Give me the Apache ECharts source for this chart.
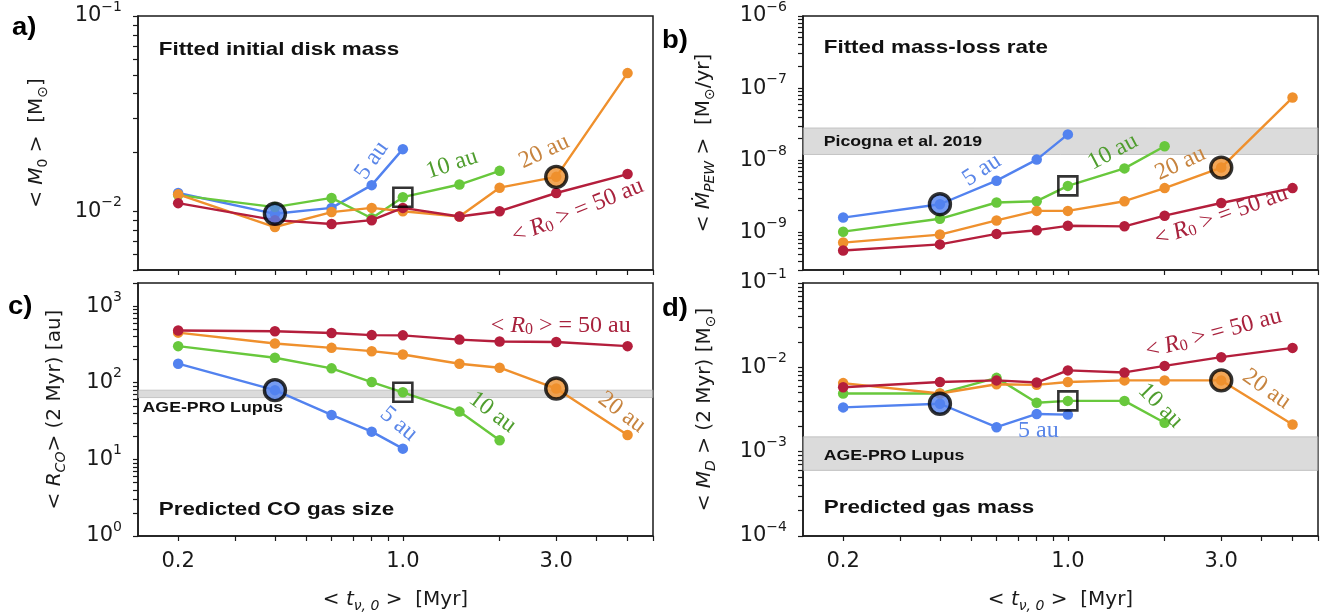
<!DOCTYPE html>
<html>
<head>
<meta charset="utf-8">
<script src="https://cdn.jsdelivr.net/npm/echarts@6/dist/echarts.min.js"></script>
<style>
html, body { margin: 0; padding: 0; background: #fff; }
#chart { width: 1332px; height: 614px; }
</style>
</head>
<body>
<div id="chart"></div>
<script>
// viscous timescale <t_nu,0> [Myr], shared by all panels
const tNu = [0.2, 0.4, 0.6, 0.8, 1.0, 1.5, 2.0, 3.0, 5.0]
const xTickLabels = [0.2, 1.0, 3.0]

// a) fitted initial disk mass [Msun]
const m0R5 = [0.0124, 0.0097, 0.0104, 0.0136, 0.0208]
const m0R10 = [0.0121, 0.0105, 0.0117, 0.0092, 0.0118, 0.0137, 0.0161]
const m0R20 = [0.0122, 0.0083, 0.0099, 0.0104, 0.0100, 0.0094, 0.0132, 0.0150, 0.0510]
const m0R50 = [0.0110, 0.0090, 0.0086, 0.0090, 0.0104, 0.0094, 0.0100, 0.0124, 0.0155]

// b) fitted mass-loss rate [Msun/yr]
const mdotR5 = [1.6e-9, 2.45e-9, 5.2e-9, 1.02e-8, 2.28e-8]
const mdotR10 = [1.02e-9, 1.54e-9, 2.59e-9, 2.7e-9, 4.4e-9, 7.7e-9, 1.56e-8]
const mdotR20 = [7.2e-10, 9.3e-10, 1.46e-9, 1.98e-9, 1.98e-9, 2.7e-9, 4.1e-9, 7.9e-9, 7.4e-8]
const mdotR50 = [5.6e-10, 6.8e-10, 9.5e-10, 1.07e-9, 1.23e-9, 1.21e-9, 1.7e-9, 2.55e-9, 4.1e-9]

// c) predicted CO gas size at 2 Myr [au]
const rcoR5 = [177, 80, 38, 23, 13.8]
const rcoR10 = [300, 212, 154, 102, 75, 42, 17.8]
const rcoR20 = [450, 325, 285, 258, 233, 177, 157, 84, 20.8]
const rcoR50 = [480, 470, 445, 418, 415, 365, 345, 340, 300]

// d) predicted gas mass at 2 Myr [Msun]
const mdR5 = [3.35e-3, 3.7e-3, 1.95e-3, 2.8e-3, 2.75e-3]
const mdR10 = [4.9e-3, 4.9e-3, 7.5e-3, 3.8e-3, 4.0e-3, 4.0e-3, 2.2e-3]
const mdR20 = [6.5e-3, 4.9e-3, 6.3e-3, 6.2e-3, 6.7e-3, 7.0e-3, 7.0e-3, 7.0e-3, 2.1e-3]
const mdR50 = [5.8e-3, 6.7e-3, 7.0e-3, 6.6e-3, 9.2e-3, 8.7e-3, 1.04e-2, 1.32e-2, 1.7e-2]

// observational ranges
const picognaBand = [1.2e-8, 2.8e-8]
const lupusSizeBand = [64, 80]
const lupusMassBand = [6e-4, 1.5e-3]

// y tick labels per panel
const yTicksA = [1e-2, 1e-1]
const yTicksB = [1e-9, 1e-8, 1e-7, 1e-6]
const yTicksC = [1, 10, 100, 1000]
const yTicksD = [1e-4, 1e-3, 1e-2, 1e-1]

const colors = ['#5282ef', '#68c83c', '#ef902d', '#b41e3c']
const labelColors = ['#5a86e8', '#4f9d2e', '#c7843f', '#a8223d']
const ink = '#1a1a1a'

const xMin = 0.15
const xMax = 6

// log tick positions (1..9 x 10^n) between two limits
function logTicks(lo, hi) {
	const out = []
	for (let e = Math.floor(Math.log10(lo)); e <= Math.ceil(Math.log10(hi)); e++) {
		for (let m = 1; m <= 9; m++) {
			const v = parseFloat((m * Math.pow(10, e)).toPrecision(6))
			if (v >= lo && v <= hi) out.push(v)
		}
	}
	return out
}

function isMajor(v, majors) {
	return majors.some(m => Math.abs(v / m - 1) < 1e-6)
}

const baseFont = 'DejaVu Sans'
const nameRich = {
	t: { fontSize: 20, fontFamily: baseFont, color: ink, lineHeight: 27 },
	i: { fontSize: 20, fontFamily: baseFont, fontStyle: 'italic', color: ink, lineHeight: 27 },
	sub: { fontSize: 14, fontFamily: baseFont, color: ink, verticalAlign: 'bottom' },
	subi: { fontSize: 14, fontFamily: baseFont, fontStyle: 'italic', color: ink, verticalAlign: 'bottom' }
}

const panels = [
	{
		grid: { left: 138, top: 15, width: 515, height: 255 },
		yMin: 0.005, yMax: 0.1, yTicks: yTicksA,
		yName: '{t|< }{i|M}{sub|0}{t| >  [M}{sub|⊙}{t|]}', nameGap: 88,
		data: [m0R5, m0R10, m0R20, m0R50], band: null, xLabels: false
	},
	{
		grid: { left: 803, top: 15, width: 515, height: 255 },
		yMin: 3e-10, yMax: 1e-6, yTicks: yTicksB,
		yName: '{t|< }{i|Ṁ}{subi|PEW}{t| >  [M}{sub|⊙}{t|/yr]}', nameGap: 86,
		data: [mdotR5, mdotR10, mdotR20, mdotR50], band: picognaBand, xLabels: false
	},
	{
		grid: { left: 138, top: 283, width: 515, height: 254 },
		yMin: 1, yMax: 2000, yTicks: yTicksC,
		yName: '{t|< }{i|R}{subi|CO}{t|> (2 Myr) [au]}', nameGap: 70,
		data: [rcoR5, rcoR10, rcoR20, rcoR50], band: lupusSizeBand, xLabels: true
	},
	{
		grid: { left: 803, top: 283, width: 515, height: 254 },
		yMin: 1e-4, yMax: 0.1, yTicks: yTicksD,
		yName: '{t|< }{i|M}{subi|D}{t| > (2 Myr) [M}{sub|⊙}{t|]}', nameGap: 85,
		data: [mdR5, mdR10, mdR20, mdR50], band: lupusMassBand, xLabels: true
	}
]

const grid = []
const xAxis = []
const yAxis = []
const series = []

const tickStyle = { color: ink, width: 1.2 }
const xAllTicks = logTicks(xMin, xMax).concat(xTickLabels.filter(v => logTicks(xMin, xMax).indexOf(v) < 0)).sort((a, b) => a - b)

panels.forEach((p, i) => {
	grid.push(Object.assign({ show: true, borderColor: ink, borderWidth: 1.5, backgroundColor: '#fff' }, p.grid))

	const yAllTicks = logTicks(p.yMin, p.yMax)

	xAxis.push({
		type: 'log', gridIndex: i, min: xMin, max: xMax, position: 'bottom',
		axisLine: { show: true, lineStyle: { color: ink, width: 1.5 } },
		axisTick: { show: true, customValues: xAllTicks, length: 5, lineStyle: tickStyle },
		axisLabel: {
			show: p.xLabels, customValues: xAllTicks,
			formatter: v => isMajor(v, xTickLabels) ? v.toFixed(1) : '',
			fontSize: 21, fontFamily: baseFont, color: ink, margin: 15
		},
		splitLine: { show: false },
		name: p.xLabels ? '{t|< }{i|t}{subi|ν, 0}{t| >  [Myr]}' : '',
		nameLocation: 'middle', nameGap: 50,
		nameTextStyle: { rich: nameRich }
	})
	yAxis.push({
		type: 'log', gridIndex: i, min: p.yMin, max: p.yMax, position: 'left',
		axisLine: { show: true, lineStyle: { color: ink, width: 1.5 } },
		axisTick: { show: true, customValues: yAllTicks, length: 5, lineStyle: tickStyle },
		axisLabel: {
			customValues: yAllTicks, margin: 16,
			formatter: v => {
				if (!isMajor(v, p.yTicks)) return ''
				const e = Math.round(Math.log10(v))
				return '{b|10}{s|' + String(e).replace('-', '−') + '}'
			},
			rich: {
				b: { fontSize: 21, fontFamily: baseFont, color: ink, lineHeight: 32 },
				s: { fontSize: 14, fontFamily: baseFont, color: ink, verticalAlign: 'top' }
			}
		},
		splitLine: { show: false },
		name: p.yName, nameLocation: 'middle', nameRotate: 90, nameGap: p.nameGap,
		nameTextStyle: { rich: nameRich }
	})

	// grey observational band
	if (p.band) {
		series.push({
			type: 'line', xAxisIndex: i, yAxisIndex: i, data: [], z: 1, silent: true,
			markArea: {
				silent: true,
				itemStyle: { color: 'rgba(190,190,190,0.55)', borderColor: 'rgba(170,170,170,0.6)', borderWidth: 1 },
				data: [[{ yAxis: p.band[0] }, { yAxis: p.band[1] }]]
			}
		})
	}

	p.data.forEach((vals, k) => {
		series.push({
			type: 'line', xAxisIndex: i, yAxisIndex: i, z: 3 + k,
			data: vals.map((v, j) => [tNu[j], v]),
			symbol: 'circle', symbolSize: 10.5, showSymbol: true,
			lineStyle: { color: colors[k], width: 2.4 },
			itemStyle: { color: colors[k] },
			emphasis: { disabled: true }
		})
	})

	// highlighted models: 5 au at 0.4 Myr, 10 au at 1 Myr, 20 au at 3 Myr
	const picks = [[0, 1, 'circle'], [1, 4, 'rect'], [2, 7, 'circle']]
	series.push({
		type: 'scatter', xAxisIndex: i, yAxisIndex: i, z: 10,
		data: picks.map(([k, j, sym]) => ({
			value: [tNu[j], p.data[k][j]],
			symbol: sym,
			symbolSize: sym === 'rect' ? 19 : 21,
			itemStyle: {
				color: sym === 'rect' ? 'rgba(0,0,0,0)' : colors[k],
				borderColor: '#000', borderWidth: sym === 'rect' ? 2.6 : 3.4
			}
		})),
		emphasis: { disabled: true }
	})
})

const chart = echarts.init(document.getElementById('chart'))
chart.setOption({
	animation: false,
	backgroundColor: '#fff',
	grid, xAxis, yAxis, series
})

// text annotations in data coordinates: [panel, x, y, text, colorIndex or -1, rotation deg, kind]
const notes = [
	[0, 0.174, 0.067, 'Fitted initial disk mass', -1, 0, 'title'],
	[0, 0.8, 0.0182, '{n|5 au}', 0, 55, 'curve'],
	[0, 1.42, 0.0174, '{n|10 au}', 1, 18, 'curve'],
	[0, 2.75, 0.0202, '{n|20 au}', 2, 25, 'curve'],
	[0, 3.5, 0.0100, '{n|< }{ni|R}{nsub|0}{n| > = 50 au}', 3, 22, 'curve'],

	[1, 0.174, 3.6e-7, 'Fitted mass-loss rate', -1, 0, 'title'],
	[1, 0.174, 1.8e-8, 'Picogna et al. 2019', -1, 0, 'band'],
	[1, 0.54, 7.3e-9, '{n|5 au}', 0, 33, 'curve'],
	[1, 1.38, 1.3e-8, '{n|10 au}', 1, 28, 'curve'],
	[1, 2.24, 9.0e-9, '{n|20 au}', 2, 25, 'curve'],
	[1, 3.0, 1.66e-9, '{n|< }{ni|R}{nsub|0}{n| > = 50 au}', 3, 20, 'curve'],

	[2, 0.174, 2.2, 'Predicted CO gas size', -1, 0, 'title'],
	[2, 0.155, 47, 'AGE-PRO Lupus', -1, 0, 'band'],
	[2, 3.1, 560, '{n|< }{ni|R}{nsub|0}{n| > = 50 au}', 3, 0, 'curve'],
	[2, 0.97, 29, '{n|5 au}', 0, -40, 'curve'],
	[2, 1.9, 41, '{n|10 au}', 1, -37, 'curve'],
	[2, 4.8, 41, '{n|20 au}', 2, -37, 'curve'],

	[3, 0.174, 2.16e-4, 'Predicted gas mass', -1, 0, 'title'],
	[3, 0.174, 8.9e-4, 'AGE-PRO Lupus', -1, 0, 'band'],
	[3, 2.84, 0.025, '{n|< }{ni|R}{nsub|0}{n| > = 50 au}', 3, 15, 'curve'],
	[3, 4.15, 5.5e-3, '{n|20 au}', 2, -35, 'curve'],
	[3, 1.94, 3.5e-3, '{n|10 au}', 1, -45, 'curve'],
	[3, 0.81, 1.76e-3, '{n|5 au}', 0, 0, 'curve']
]

const serifRich = fill => ({
	n: { fontFamily: 'Liberation Serif', fontSize: 24, fill },
	ni: { fontFamily: 'Liberation Serif', fontSize: 24, fontStyle: 'italic', fill },
	nsub: { fontFamily: 'Liberation Serif', fontSize: 16, fill, verticalAlign: 'bottom' }
})

const graphic = notes.map(([pi, x, y, text, ci, rot, kind]) => {
	const px = chart.convertToPixel({ xAxisIndex: pi, yAxisIndex: pi }, [x, y])
	if (kind === 'curve') {
		return {
			type: 'text', x: px[0], y: px[1], rotation: rot * Math.PI / 180, z: 20,
			style: { text, rich: serifRich(labelColors[ci]), align: 'center', verticalAlign: 'middle' }
		}
	}
	return {
		type: 'text', x: px[0], y: px[1], z: 20, scaleX: 1.18,
		style: {
			text, fill: '#111', align: 'left', verticalAlign: 'middle',
			font: 'bold ' + (kind === 'title' ? 19 : 15) + 'px "Liberation Sans", Arial, sans-serif'
		}
	}
})

const letters = [['a)', 12, 16], ['b)', 662, 29], ['c)', 8, 295], ['d)', 662, 297]]
letters.forEach(([t, x, y]) => {
	graphic.push({
		type: 'text', x, y, z: 20, scaleX: 1.1,
		style: { text: t, fill: '#000', font: 'bold 25px "Liberation Sans", Arial, sans-serif' }
	})
})

chart.setOption({ graphic })
</script>
</body>
</html>
